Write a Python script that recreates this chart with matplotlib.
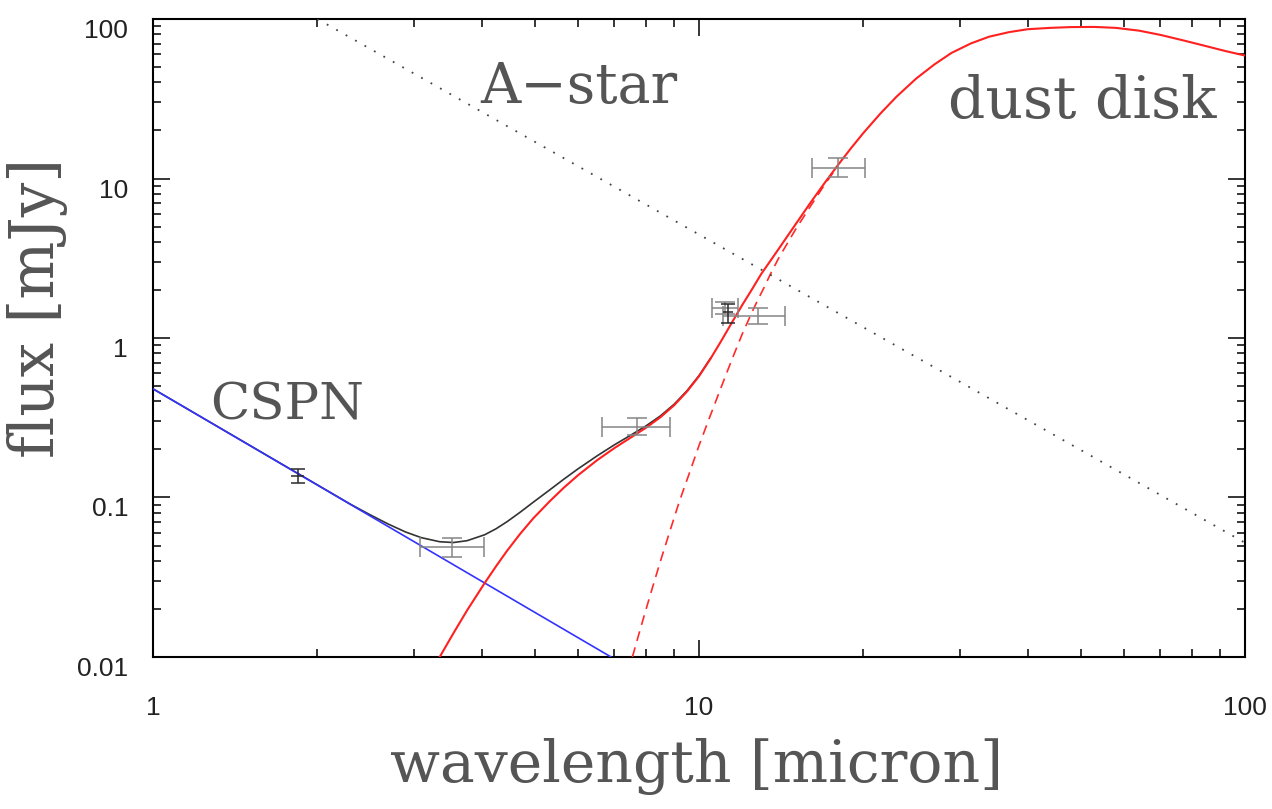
import matplotlib
matplotlib.use("Agg")
import matplotlib.pyplot as plt
from matplotlib.ticker import FixedLocator, FuncFormatter, LogLocator, NullFormatter

# A-star photosphere (dotted)
astar_wl = [2.0, 100.0]
astar_flux = [100.0, 0.052]

# central star of the PN (blue)
cspn_wl = [1.0, 6.9]
cspn_flux = [0.48, 0.01]

# dust disk model (red solid)
disk_wl = [3.35, 3.55, 3.76, 4.05, 4.25, 4.45, 4.7, 4.97, 5.33, 5.65, 6.0, 6.5, 7.0,
           7.5, 8.0, 8.5, 9.0, 9.5, 10.0, 10.5, 11.0, 11.5, 12.0, 12.5, 13.0, 14.0,
           15.0, 16.0, 17.0, 18.0, 19.0, 20.0, 21.5, 23.0, 25.0, 27.0, 29.0, 31.5,
           34.0, 37.0, 40.0, 44.0, 48.0, 53.0, 58.0, 64.0, 70.0, 77.0, 85.0, 92.0, 100.0]
disk_flux = [0.01, 0.0141, 0.0196, 0.0291, 0.0371, 0.0463, 0.059, 0.074, 0.0948, 0.1149,
             0.1377, 0.1709, 0.2042, 0.2377, 0.274, 0.3188, 0.3783, 0.4609, 0.5763, 0.743,
             0.968, 1.259, 1.611, 2.017, 2.52, 3.63, 5.12, 7.05, 9.42, 12.25, 15.55, 19.3,
             25.6, 32.6, 42.4, 52.0, 61.3, 70.4, 77.5, 82.8, 86.3, 88.0, 89.0, 89.2, 88.0,
             84.5, 79.5, 73.5, 67.5, 63.0, 59.0]

# second dust component (red dashed)
hot_wl = [7.55, 7.85, 8.15, 8.5, 8.85, 9.2, 9.6, 10.0, 10.5, 11.0, 11.5, 12.0, 12.5,
          12.8, 13.2, 13.5, 14.0, 15.0, 16.0, 17.0, 18.0]
hot_flux = [0.01, 0.016, 0.0248, 0.040, 0.062, 0.094, 0.142, 0.212, 0.33, 0.50, 0.74,
            1.06, 1.45, 1.72, 2.12, 2.5, 3.18, 4.75, 6.7, 9.2, 12.1]

# total model (black)
total_wl = [1.0, 2.3, 2.5, 2.7, 2.9, 3.1, 3.35, 3.55, 3.76, 4.05, 4.25, 4.45, 4.7, 4.97,
            5.33, 5.65, 6.0, 6.5, 7.0, 7.5, 8.0, 8.5, 9.0, 9.5, 10.0, 10.5]
total_flux = [0.48, 0.0907, 0.0778, 0.068, 0.0608, 0.056, 0.0528, 0.0522, 0.0536, 0.0584,
              0.0637, 0.0705, 0.0807, 0.0934, 0.1117, 0.130, 0.151, 0.182, 0.214, 0.246,
              0.2815, 0.325, 0.384, 0.466, 0.581, 0.747]

# photometry, grey points
obs_wl = [3.53, 7.70, 11.16, 12.82, 17.97]
obs_flux = [0.049, 0.275, 1.54, 1.37, 11.6]
obs_wl_lo = [0.45, 1.06, 0.60, 1.75, 1.87]
obs_wl_hi = [0.50, 1.15, 0.63, 1.55, 2.13]
obs_flux_lo = [0.0065, 0.03, 0.13, 0.15, 1.4]
obs_flux_hi = [0.007, 0.04, 0.14, 0.17, 1.8]

# photometry, dark points
dark_wl = [1.84, 11.30]
dark_flux = [0.137, 1.45]
dark_wl_err = [0.05, 0.22]
dark_flux_lo = [0.013, 0.2]
dark_flux_hi = [0.013, 0.18]

fig = plt.figure(figsize=(12.72, 8.09), dpi=100)
ax = fig.add_axes([0.1203, 0.1879, 0.8585, 0.7886])
ax.set_xscale("log")
ax.set_yscale("log")

ax.plot(total_wl, total_flux, color="#333333", lw=1.2, zorder=2)
ax.plot(cspn_wl, cspn_flux, color="#3333ff", lw=1.2, zorder=3)
ax.plot(hot_wl, hot_flux, color="#ff2a2a", lw=1.2, ls=(0, (6, 4)), zorder=3)
ax.plot(disk_wl, disk_flux, color="#ff2020", lw=1.5, zorder=4)
ax.plot(astar_wl, astar_flux, color="#444444", lw=1.3, ls=(0, (1, 5)), zorder=3)

ax.errorbar(obs_wl, obs_flux, xerr=[obs_wl_lo, obs_wl_hi], yerr=[obs_flux_lo, obs_flux_hi],
            fmt="none", ecolor="#858585", elinewidth=1.1, capsize=7, capthick=1.1, zorder=5)
# dark points: capped vertical bars, plain horizontal bars
ax.errorbar(dark_wl, dark_flux, yerr=[dark_flux_lo, dark_flux_hi],
            fmt="none", ecolor="#2a2a2a", elinewidth=1.1, capsize=5, capthick=1.1, zorder=6)
ax.errorbar(dark_wl, dark_flux, xerr=dark_wl_err,
            fmt="none", ecolor="#2a2a2a", elinewidth=1.1, capsize=0, zorder=6)

ax.set_xlim(1, 100)
ax.set_ylim(0.01, 100)

ax.xaxis.set_major_locator(FixedLocator([1, 10, 100]))
ax.yaxis.set_major_locator(FixedLocator([0.01, 0.1, 1, 10, 100]))
ax.xaxis.set_minor_locator(LogLocator(base=10, subs=range(2, 10)))
ax.yaxis.set_minor_locator(LogLocator(base=10, subs=range(2, 10)))
ax.xaxis.set_minor_formatter(NullFormatter())
ax.yaxis.set_minor_formatter(NullFormatter())
fmt = FuncFormatter(lambda v, p: "{:g}".format(v))
ax.xaxis.set_major_formatter(fmt)
ax.yaxis.set_major_formatter(fmt)

ax.tick_params(which="both", direction="in", top=True, right=True, width=1.1, color="black")
ax.tick_params(which="major", length=12)
ax.tick_params(which="minor", length=6)
ax.tick_params(axis="x", which="major", pad=28, labelsize=19, labelcolor="#222222")
ax.tick_params(axis="y", which="major", pad=18, labelsize=19, labelcolor="#222222")
for lab in ax.get_xticklabels() + ax.get_yticklabels():
    lab.set_fontfamily("Liberation Sans")
plt.setp(ax.get_yticklabels(), va="top")

for s in ax.spines.values():
    s.set_linewidth(1.5)

serif = "DejaVu Serif"
tcol = "#555555"
ax.text(0.30, 0.868, "A\u2212star", transform=ax.transAxes, fontsize=40,
        family=serif, color=tcol, va="baseline", ha="left")
ax.text(0.728, 0.845, "dust disk", transform=ax.transAxes, fontsize=42,
        family=serif, color=tcol, va="baseline", ha="left")
ax.text(0.052, 0.3715, "CSPN", transform=ax.transAxes, fontsize=37,
        family=serif, color=tcol, va="baseline", ha="left")

fig.text(697 / 1272, 1 - 782 / 809, "wavelength [micron]", fontsize=42, family=serif,
         color=tcol, ha="center", va="baseline")
fig.text(38 / 1272, 1 - 308 / 809, "flux [mJy]", fontsize=44, family=serif,
         color=tcol, ha="center", va="center", rotation=90)

fig.savefig("out.png", dpi=100)
